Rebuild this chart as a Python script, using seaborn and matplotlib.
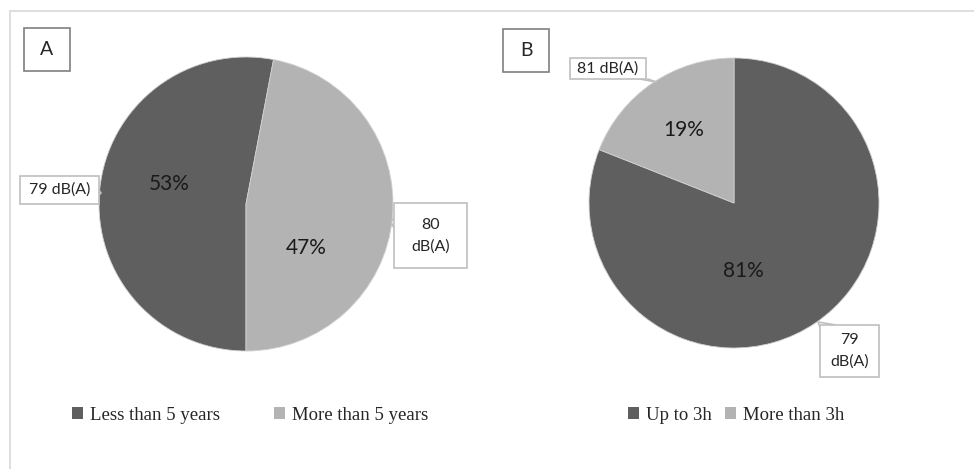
import matplotlib
matplotlib.use("Agg")
import matplotlib.pyplot as plt
import seaborn as sns
from matplotlib.patches import Rectangle
from matplotlib.lines import Line2D

# ---- data ----
labels_a = ["Less than 5 years", "More than 5 years"]
values_a = [53, 47]
callouts_a = ["79 dB(A)", "80\ndB(A)"]

labels_b = ["Up to 3h", "More than 3h"]
values_b = [81, 19]
callouts_b = ["79\ndB(A)", "81 dB(A)"]

colors = ["#5f5f5f", "#b3b3b3"]

sns.set_theme(style="white")
plt.rcParams["font.family"] = ["Lato", "DejaVu Sans"]

W, H = 974, 469
fig = plt.figure(figsize=(W / 100, H / 100), dpi=100)
fig.patch.set_facecolor("white")


def fx(x):
    return x / W


def fy(y):
    return 1 - y / H


def pie_axes(cx, cy, r):
    ax = fig.add_axes([fx(cx - r), fy(cy + r), 2 * r / W, 2 * r / H])
    return ax


def finish(ax):
    ax.set_xlim(-1, 1)
    ax.set_ylim(-1, 1)
    ax.set_axis_off()


# outer frame
fig.add_artist(Line2D([fx(10), fx(W + 5)], [fy(11), fy(11)], color="#d9d9d9", lw=1.2,
                      transform=fig.transFigure))
fig.add_artist(Line2D([fx(10), fx(10)], [fy(11), fy(H + 5)], color="#d9d9d9", lw=1.2,
                      transform=fig.transFigure))


def box(x0, y0, x1, y1, text, size, ec="#bfbfbf", lw=1.2):
    fig.add_artist(Rectangle((fx(x0), fy(y1)), (x1 - x0) / W, (y1 - y0) / H,
                             transform=fig.transFigure, facecolor="white",
                             edgecolor=ec, lw=lw, zorder=5))
    fig.text(fx((x0 + x1) / 2), fy((y0 + y1) / 2), text, ha="center", va="center",
             fontsize=size, color="#262626", zorder=6, linespacing=1.65)


def pointer(pts):
    xs = [fx(p[0]) for p in pts]
    ys = [fy(p[1]) for p in pts]
    fig.add_artist(Line2D(xs, ys, color="#bfbfbf", lw=1.2, transform=fig.transFigure, zorder=4))


# ---- Pie A ----
axA = pie_axes(246, 204, 147)
wedA, _, pctA = axA.pie(values_a, colors=colors, startangle=270, counterclock=False,
                        autopct="%.0f%%", radius=1.0,
                        wedgeprops=dict(linewidth=0.6, edgecolor="#d0d0d0"),
                        textprops=dict(fontsize=15, color="#1a1a1a"))
finish(axA)
pctA[0].set_position((-0.524, 0.136))
pctA[1].set_position((0.408, -0.299))

# ---- Pie B ----
axB = pie_axes(734, 203, 145)
wedB, _, pctB = axB.pie(values_b, colors=colors, startangle=90, counterclock=False,
                        autopct="%.0f%%", radius=1.0,
                        wedgeprops=dict(linewidth=0.6, edgecolor="#d0d0d0"),
                        textprops=dict(fontsize=15, color="#1a1a1a"))
finish(axB)
pctB[0].set_position((0.062, -0.469))
pctB[1].set_position((-0.35, 0.50))

# letter boxes
box(24, 28, 70, 71, "A", 14, ec="#7f7f7f", lw=1.2)
box(503, 29, 549, 72, "B", 14, ec="#7f7f7f", lw=1.2)

# callouts
pointer([(96, 186), (101, 193), (96, 198)])
box(20, 176, 99, 204, callouts_a[0], 11.5)
pointer([(396, 215), (391, 222), (396, 232)])
box(394, 203, 467, 268, callouts_a[1], 11.5)
pointer([(640, 79), (656, 82), (648, 79)])
box(570, 58, 646, 79, callouts_b[1], 11.5)
pointer([(822, 332), (818, 322), (836, 325)])
box(820, 325, 879, 377, callouts_b[0], 11.5)

# legends
legA = fig.legend(wedA, labels_a, loc="center", bbox_to_anchor=(fx(250), fy(415)),
                  ncol=2, frameon=False, handlelength=0.6, handleheight=0.6,
                  handletextpad=0.35, columnspacing=2.9,
                  prop=dict(family="Liberation Serif", size=13.5))
legB = fig.legend(wedB, labels_b, loc="center", bbox_to_anchor=(fx(736), fy(415)),
                  ncol=2, frameon=False, handlelength=0.6, handleheight=0.6,
                  handletextpad=0.35, columnspacing=0.7,
                  prop=dict(family="Liberation Serif", size=13.5))
for leg in (legA, legB):
    for t in leg.get_texts():
        t.set_color("#262626")
    for h in leg.legend_handles:
        h.set_edgecolor("none")

fig.savefig("out.png", dpi=100, facecolor="white")
